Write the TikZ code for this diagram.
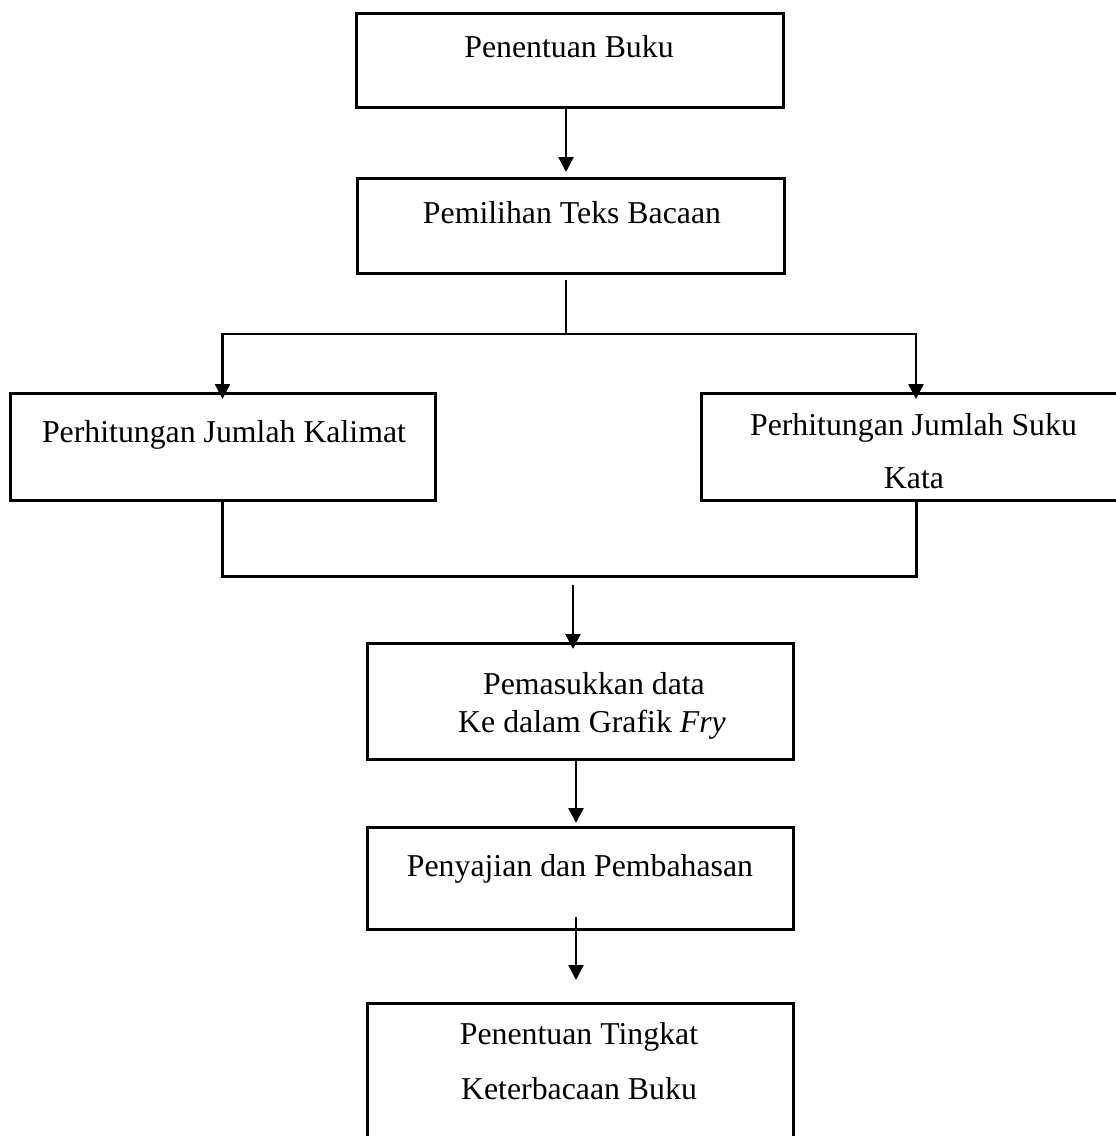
\documentclass[tikz,border=0pt]{standalone}
\usepackage{fontspec}
\setmainfont{Liberation Serif}
\usetikzlibrary{arrows.meta,calc}
\begin{document}
\begin{tikzpicture}[x=0.5pt,y=-0.5pt,
  box/.style={draw, rectangle, line width=1.5pt, inner sep=0pt, outer sep=0pt},
  txt/.style={anchor=base, inner sep=0pt, outer sep=0pt, font=\fontsize{15.9pt}{19pt}\selectfont},
  conn/.style={line width=1.2pt},
  brk/.style={line width=1.5pt},
  arr/.style={line width=1.2pt, -{Triangle[width=7.5pt,length=7.5pt]}}
]
\useasboundingbox[fill=white] (0,0) rectangle (1115,1136);

% boxes
\node[box, minimum width=213.5pt, minimum height=47pt]   (b1) at (569.5,60) {};
\node[box, minimum width=213.5pt, minimum height=47.5pt] (b2) at (570.5,225.5) {};
\node[box, minimum width=212.5pt, minimum height=53.5pt] (b3) at (222.5,446.5) {};
\node[box, minimum width=215pt,   minimum height=53.5pt] (b4) at (916,446.5) {};
\node[box, minimum width=213pt,   minimum height=58pt]   (b5) at (580,701) {};
\node[box, minimum width=213pt,   minimum height=51pt]   (b6) at (580,878) {};
\node[box, minimum width=213pt,   minimum height=73.5pt] (b7) at (580,1076.5) {};

% texts
\node[txt] (t1)  at (569,57)   {Penentuan Buku};
\node[txt] (t2)  at (572,223)  {Pemilihan Teks Bacaan};
\node[txt] (t3)  at (224,442)  {Perhitungan Jumlah Kalimat};
\node[txt] (t4a) at (913.5,435) {Perhitungan Jumlah Suku};
\node[txt] (t4b) at (914,488)  {Kata};
\node[txt] (t5a) at (594,694)  {Pemasukkan data};
\node[txt] (t5b) at (592,732)  {Ke dalam Grafik \textit{Fry}};
\node[txt] (t6)  at (580,876)  {Penyajian dan Pembahasan};
\node[txt] (t7a) at (579,1044) {Penentuan Tingkat};
\node[txt] (t7b) at (579,1099) {Keterbacaan Buku};

% connectors
\coordinate (sp) at (566,334);
\coordinate (jn) at (573,585);
\coordinate (ax) at (576,0);

\draw[arr] (sp |- b1.south) -- ([yshift=3pt]sp |- b2.north);
\draw[conn] ([yshift=-3.5pt]sp |- b2.south) -- (sp);
\draw[arr] (sp) -| ([yshift=-3pt]b3.north);
\draw[arr] (sp) -| ([yshift=-3pt]b4.north);
\draw[brk] (b3.south) -- ++(0,76) -| (b4.south);
\draw[arr] (jn) -- ([yshift=-3pt]jn |- b5.north);
\draw[arr] (ax |- b5.south) -- ([yshift=2pt]ax |- b6.north);
\draw[arr] ([yshift=6pt]ax |- b6.south) -- ([yshift=11.5pt]ax |- b7.north);
\end{tikzpicture}
\end{document}
